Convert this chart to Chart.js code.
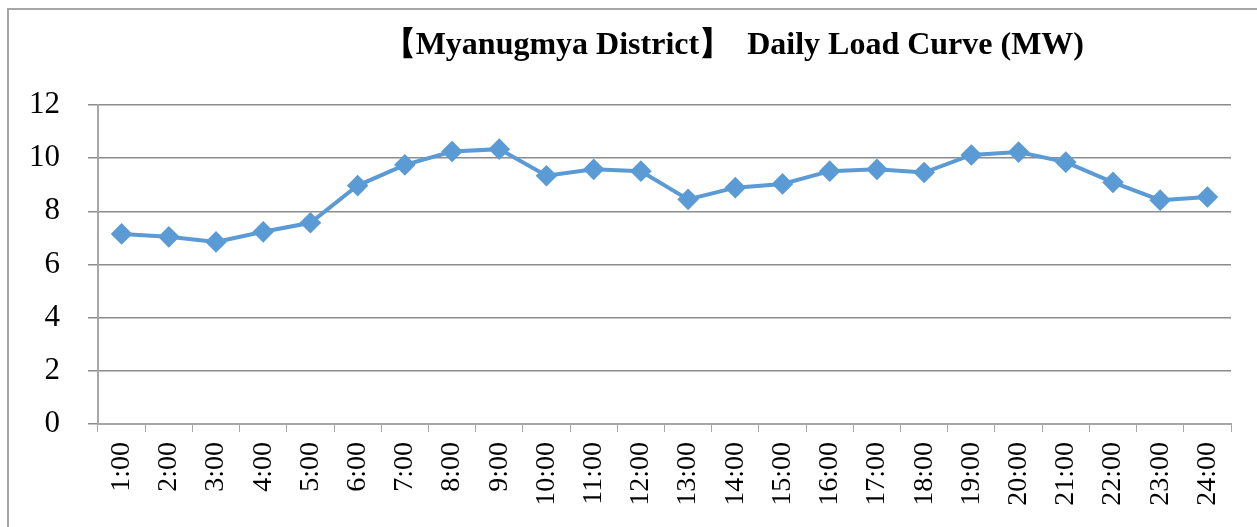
<!DOCTYPE html>
<html>
<head>
<meta charset="utf-8">
<script src="https://cdn.jsdelivr.net/npm/chart.js@4"></script>
<style>
  html, body { margin: 0; padding: 0; background: #fff; }
  #wrap { position: relative; width: 1257px; height: 527px; }
</style>
</head>
<body>
<div id="wrap"><canvas id="c" width="1257" height="527"></canvas></div>
<script>
const titleText = "【Myanugmya District】  Daily Load Curve (MW)";
const hours = ["1:00","2:00","3:00","4:00","5:00","6:00","7:00","8:00","9:00","10:00","11:00","12:00",
               "13:00","14:00","15:00","16:00","17:00","18:00","19:00","20:00","21:00","22:00","23:00","24:00"];
const loadMW = [7.15, 7.04, 6.85, 7.23, 7.57, 8.97, 9.75, 10.25, 10.34, 9.34, 9.58, 9.51,
                8.45, 8.89, 9.03, 9.51, 9.58, 9.46, 10.12, 10.23, 9.85, 9.09, 8.42, 8.54];
const yTicks = [0, 2, 4, 6, 8, 10, 12];

const framePlugin = {
  id: 'frame',
  beforeDraw(chart) {
    const ctx = chart.ctx;
    ctx.save();
    ctx.fillStyle = '#ffffff';
    ctx.fillRect(0, 0, chart.width, chart.height);
    ctx.strokeStyle = '#a6a6a6';
    ctx.lineWidth = 2;
    ctx.strokeRect(8, 9, 1400, 600);
    ctx.restore();
  },
  afterDraw(chart) {
    const ctx = chart.ctx;
    ctx.save();
    ctx.font = 'bold 32px "Liberation Serif", "Times New Roman", serif';
    ctx.fillStyle = '#000';
    ctx.textAlign = 'right';
    ctx.textBaseline = 'alphabetic';
    ctx.fillText(titleText, 1084, 54);
    ctx.restore();
  }
};

new Chart(document.getElementById('c'), {
  type: 'line',
  data: {
    labels: hours,
    datasets: [{
      data: loadMW,
      borderColor: '#5b9bd5',
      backgroundColor: '#5b9bd5',
      borderWidth: 4,
      pointStyle: 'rectRot',
      pointRadius: 8,
      pointHoverRadius: 8,
      tension: 0,
      fill: false
    }]
  },
  options: {
    responsive: false,
    animation: false,
    layout: { padding: { top: 105, right: 26, left: 0, bottom: 0 } },
    plugins: { legend: { display: false }, tooltip: { enabled: false }, title: { display: false } },
    scales: {
      x: {
        offset: true,
        grid: { offset: true, drawOnChartArea: false, drawTicks: true, tickLength: 8, color: '#a6a6a6' },
        border: { color: '#a6a6a6', width: 2 },
        ticks: {
          minRotation: 90, maxRotation: 90, padding: 10, autoSkip: false,
          color: '#000', font: { family: '"Liberation Serif", "Times New Roman", serif', size: 28 }
        },
        afterFit(scale) { scale.height = 103; }
      },
      y: {
        min: 0, max: 12,
        afterBuildTicks(scale) { scale.ticks = yTicks.map(v => ({ value: v })); },
        grid: { color: '#8c8c8c', lineWidth: 1.5, tickLength: 10 },
        border: { color: '#a6a6a6', width: 2 },
        ticks: {
          padding: 28, color: '#000',
          font: { family: '"Liberation Serif", "Times New Roman", serif', size: 31 }
        },
        afterFit(scale) { scale.width = 98; }
      }
    }
  },
  plugins: [framePlugin]
});
</script>
</body>
</html>
